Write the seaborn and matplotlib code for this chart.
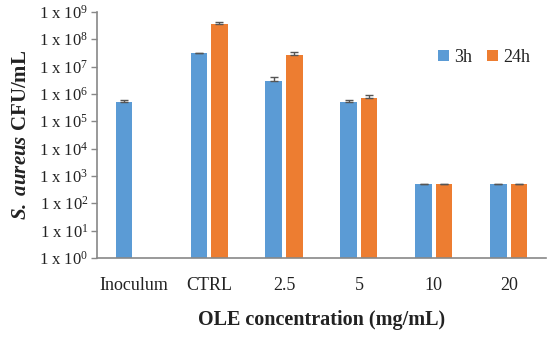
import numpy as np
import pandas as pd
import matplotlib
import matplotlib.pyplot as plt
import seaborn as sns

# Data (CFU/mL, bar height and top of error bar)
categories = ["Inoculum", "CTRL", "2.5", "5", "10", "20"]
cfu_3h = [5.0e5, 3.0e7, 3.0e6, 5.0e5, 500, 500]
top_3h = [6.2e5, 3.15e7, 4.0e6, 6.3e5, 520, 520]
cfu_24h = [np.nan, 3.7e8, 2.7e7, 7.2e5, 500, 500]
top_24h = [np.nan, 4.4e8, 3.4e7, 9.1e5, 520, 520]
times = ["3h", "24h"]
colors = ["#5B9BD5", "#ED7D31"]
ytick_vals = [10.0 ** k for k in range(10)]

sns.set_style("white")
plt.rcParams["font.family"] = ["Liberation Serif", "DejaVu Serif"]
plt.rcParams["mathtext.fontset"] = "custom"
plt.rcParams["mathtext.rm"] = "Liberation Serif"
plt.rcParams["mathtext.it"] = "Liberation Serif:italic"
plt.rcParams["mathtext.bf"] = "Liberation Serif:bold"
plt.rcParams["mathtext.bfit"] = "Liberation Serif:italic:bold"

df = pd.DataFrame({
    "cat": categories * 2,
    "time": ["3h"] * 6 + ["24h"] * 6,
    "cfu": cfu_3h + cfu_24h,
    "top": top_3h + top_24h,
}).dropna()

fig = plt.figure(figsize=(5.5, 3.38), dpi=100)
ax = fig.add_axes([0.176, 0.237, 0.817, 0.728])
ax.set_yscale("log")
sns.barplot(data=df, x="cat", y="cfu", hue="time", hue_order=times,
            order=categories, palette=colors, saturation=1, width=0.55, gap=0.2,
            errorbar=None, linewidth=0, ax=ax)

# error bars (upper only) at the centre of each bar
for bars, t in zip(ax.containers, times):
    sub = df[df["time"] == t].set_index("cat")
    for rect in bars:
        h = rect.get_height()
        if not np.isfinite(h) or h <= 0:
            continue
        xc = rect.get_x() + rect.get_width() / 2
        row = sub[np.isclose(sub["cfu"], h)].iloc[0]
        ax.errorbar(xc, h, yerr=[[0], [row["top"] - h]], fmt="none",
                    ecolor="#555555", elinewidth=1, capsize=3, capthick=1)

ax.set_ylim(1, 1e9)
ax.set_xlim(-0.5, 5.5)
ax.set_yticks(ytick_vals)
ax.set_yticklabels([f"1 x 10$^{{{k}}}$" for k in range(10)], fontsize=12)
ax.minorticks_off()
ax.tick_params(axis="y", left=True, length=4, width=1, color="#888888",
               labelcolor="#222222", pad=2)
ax.tick_params(axis="x", bottom=False, labelsize=13, labelcolor="#222222", pad=10)
for s in ["top", "right"]:
    ax.spines[s].set_visible(False)
for s in ["left", "bottom"]:
    ax.spines[s].set_color("#888888")
    ax.spines[s].set_linewidth(1.2)

ax.set_xlabel("OLE concentration (mg/mL)", fontsize=14.5, fontweight="bold",
              color="#222222", labelpad=12)
ax.set_ylabel(r"$\mathbfit{S.\ aureus}$ CFU/mL", fontsize=15, fontweight="bold",
              color="#222222", labelpad=6)

ax.legend(loc="center", bbox_to_anchor=(0.88, 0.83), bbox_transform=fig.transFigure,
          ncol=2, frameon=False, fontsize=13, handlelength=0.6, handleheight=0.6,
          handletextpad=0.3, columnspacing=0.8, labelcolor="#222222")

fig.savefig("out.png", dpi=100)
